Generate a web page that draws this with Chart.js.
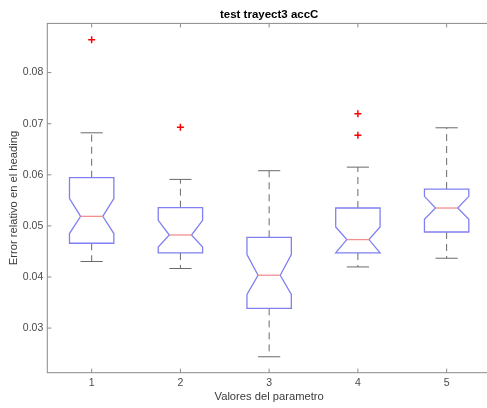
<!DOCTYPE html>
<html>
<head>
<meta charset="utf-8">
<script src="https://cdn.jsdelivr.net/npm/chart.js@4"></script>
<style>
  body { margin: 0; background: #fff; }
  #wrap { width: 487px; height: 408px; overflow: hidden; }
</style>
</head>
<body>
<div id="wrap"><canvas id="myChart" width="491" height="408"></canvas></div>
<script>
const categories = [1, 2, 3, 4, 5];
const whiskerHi = [0.06822, 0.0591, 0.0608, 0.0615, 0.0692];
const q3 = [0.05943, 0.05357, 0.04777, 0.0535, 0.05721];
const notchHi = [0.05533, 0.05109, 0.04439, 0.04979, 0.05578];
const median = [0.05187, 0.04822, 0.04035, 0.04732, 0.0535];
const notchLo = [0.0485, 0.04588, 0.03658, 0.04471, 0.05129];
const q1 = [0.0466, 0.04471, 0.03385, 0.04471, 0.04881];
const whiskerLo = [0.04303, 0.04166, 0.02439, 0.04197, 0.04367];
const outlierX = [1, 2, 4, 4];
const outlierY = [0.08645, 0.06932, 0.07193, 0.06775];
const yTicks = [0.03, 0.04, 0.05, 0.06, 0.07, 0.08];

const font = "'Liberation Sans', Arial, Helvetica, sans-serif";

const boxPlugin = {
  id: "boxes",
  beforeDatasetsDraw(chart) {
    const ctx = chart.ctx;
    const x = chart.scales.x, y = chart.scales.y;
    const a = chart.chartArea;
    ctx.save();

    // marco y marcas de los ejes
    ctx.strokeStyle = "#8a8a8a";
    ctx.lineWidth = 1;
    ctx.strokeRect(a.left, a.top, a.right - a.left, a.bottom - a.top);
    ctx.beginPath();
    categories.forEach(c => {
      let px = x.getPixelForValue(c);
      ctx.moveTo(px, a.bottom); ctx.lineTo(px, a.bottom - 4);
      ctx.moveTo(px, a.top); ctx.lineTo(px, a.top + 4);
    });
    yTicks.forEach(v => {
      let py = y.getPixelForValue(v);
      ctx.moveTo(a.left, py); ctx.lineTo(a.left + 4, py);
      ctx.moveTo(a.right, py); ctx.lineTo(a.right - 4, py);
    });
    ctx.stroke();

    for (let i = 0; i < categories.length; i++) {
      let c = categories[i];
      let xl = x.getPixelForValue(c - 0.25), xr = x.getPixelForValue(c + 0.25);
      let nl = x.getPixelForValue(c - 0.125), nr = x.getPixelForValue(c + 0.125);
      let xc = x.getPixelForValue(c);
      let yq3 = y.getPixelForValue(q3[i]), yq1 = y.getPixelForValue(q1[i]);
      let ymed = y.getPixelForValue(median[i]);
      let ynh = y.getPixelForValue(Math.min(notchHi[i], q3[i]));
      let ynl = y.getPixelForValue(Math.max(notchLo[i], q1[i]));
      let ywh = y.getPixelForValue(whiskerHi[i]), ywl = y.getPixelForValue(whiskerLo[i]);

      // bigotes
      ctx.strokeStyle = "#6a6a6a";
      ctx.lineWidth = 1;
      ctx.setLineDash([7, 5]);
      ctx.beginPath();
      ctx.moveTo(xc, yq3); ctx.lineTo(xc, ywh);
      ctx.moveTo(xc, yq1); ctx.lineTo(xc, ywl);
      ctx.stroke();
      ctx.setLineDash([]);
      ctx.beginPath();
      ctx.moveTo(nl, ywh); ctx.lineTo(nr, ywh);
      ctx.moveTo(nl, ywl); ctx.lineTo(nr, ywl);
      ctx.stroke();

      // caja con muesca
      ctx.strokeStyle = "#8080f2";
      ctx.lineWidth = 1.3;
      ctx.beginPath();
      ctx.moveTo(xl, yq3);
      ctx.lineTo(xl, ynh);
      ctx.lineTo(nl, ymed);
      ctx.lineTo(xl, ynl);
      ctx.lineTo(xl, yq1);
      ctx.lineTo(xr, yq1);
      ctx.lineTo(xr, ynl);
      ctx.lineTo(nr, ymed);
      ctx.lineTo(xr, ynh);
      ctx.lineTo(xr, yq3);
      ctx.closePath();
      ctx.stroke();

      // mediana
      ctx.strokeStyle = "#f29090";
      ctx.beginPath();
      ctx.moveTo(nl, ymed); ctx.lineTo(nr, ymed);
      ctx.stroke();
    }
    ctx.restore();
  }
};

new Chart("myChart", {
  type: "scatter",
  data: {
    datasets: [{
      data: outlierX.map((v, i) => ({ x: v, y: outlierY[i] })),
      pointStyle: "cross",
      radius: 3.5,
      borderColor: "#ff0000",
      borderWidth: 1.5,
      backgroundColor: "#ff0000"
    }]
  },
  options: {
    responsive: false,
    animation: false,
    events: [],
    layout: { autoPadding: false, padding: 0 },
    plugins: {
      legend: { display: false },
      tooltip: { enabled: false },
      title: {
        display: true,
        fullSize: false,
        text: "test trayect3 accC",
        color: "#000",
        font: { family: font, size: 11.5, weight: "bold" },
        padding: { top: 8, bottom: 1.6 }
      }
    },
    scales: {
      x: {
        type: "linear",
        min: 0.5,
        max: 5.5,
        grid: { display: false, drawTicks: false },
        border: { display: false },
        afterBuildTicks: s => { s.ticks = categories.map(v => ({ value: v })); },
        afterFit: s => { s.height = 35.3; },
        ticks: {
          color: "#4a4a4a",
          padding: 4,
          maxRotation: 0,
          font: { family: font, size: 10.5 },
          callback: v => String(v)
        },
        title: {
          display: true,
          text: "Valores del parametro",
          color: "#3a3a3a",
          font: { family: font, size: 11.2 },
          padding: { top: 0, bottom: 4.4 }
        }
      },
      y: {
        min: 0.02127,
        max: 0.08963,
        grid: { display: false, drawTicks: false },
        border: { display: false },
        afterBuildTicks: s => { s.ticks = yTicks.map(v => ({ value: v })); },
        afterFit: s => { s.width = 47.3; },
        ticks: {
          color: "#4a4a4a",
          padding: 4,
          font: { family: font, size: 10.5 },
          callback: v => v.toFixed(2)
        },
        title: {
          display: true,
          text: "Error relativo en el heading",
          color: "#3a3a3a",
          font: { family: font, size: 11.2 },
          padding: { top: 7, bottom: 0 }
        }
      }
    }
  },
  plugins: [boxPlugin]
});
</script>
</body>
</html>
